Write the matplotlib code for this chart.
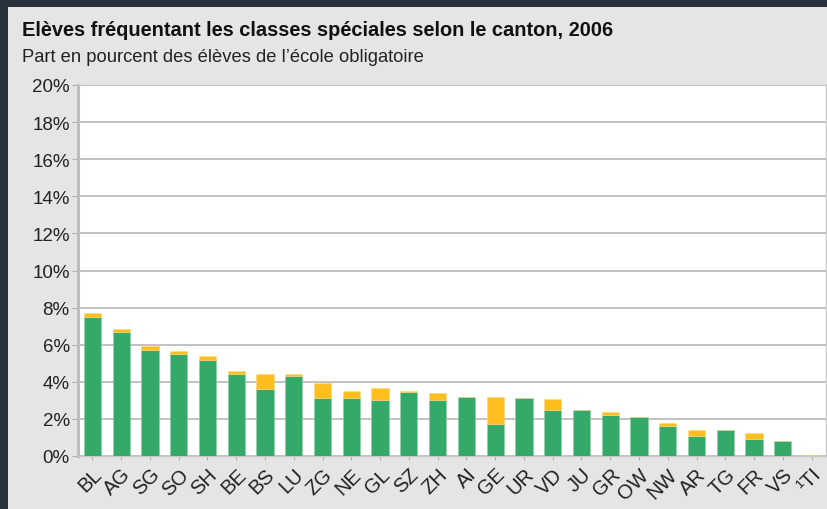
import matplotlib
matplotlib.use("Agg")
from matplotlib import pyplot as plt
from matplotlib.patches import Rectangle
import numpy as np

# données
cantons = ['BL', 'AG', 'SG', 'SO', 'SH', 'BE', 'BS', 'LU', 'ZG', 'NE', 'GL', 'SZ', 'ZH',
           'AI', 'GE', 'UR', 'VD', 'JU', 'GR', 'OW', 'NW', 'AR', 'TG', 'FR', 'VS', '¹TI']
vert = [7.5, 6.7, 5.7, 5.5, 5.2, 4.4, 3.6, 4.3, 3.1, 3.1, 3.0, 3.45, 3.0,
        3.2, 1.7, 3.1, 2.5, 2.5, 2.2, 2.1, 1.6, 1.1, 1.4, 0.9, 0.8, 0.0]
orange = [0.2, 0.15, 0.25, 0.15, 0.2, 0.2, 0.8, 0.1, 0.85, 0.4, 0.65, 0.05, 0.4,
          0.0, 1.5, 0.0, 0.55, 0.0, 0.15, 0.0, 0.2, 0.3, 0.0, 0.35, 0.0, 0.05]
yticks = [0, 2, 4, 6, 8, 10, 12, 14, 16, 18, 20]

plt.rcParams['font.family'] = ['Liberation Sans', 'DejaVu Sans']

W, H = 828, 510
fig = plt.figure(figsize=(W / 100, H / 100), dpi=100)
fig.patch.set_facecolor('#28323d')
# panneau gris clair
fig.add_artist(Rectangle((8 / W, 0), 1, 1 - 8 / H, transform=fig.transFigure,
                         facecolor='#e5e5e5', edgecolor='none', zorder=-10))

ax = fig.add_axes([78 / W, (H - 457) / H, (826 - 78) / W, (457 - 86) / H])
ax.set_zorder(1)
ax.set_facecolor('white')

x = np.arange(len(cantons))
ax.bar(x, vert, width=0.6, color='#34a96a', edgecolor='#8fd0aa', linewidth=0.4, zorder=3)
ax.bar(x, orange, bottom=vert, width=0.6, color='#fdbe1e', edgecolor='#ffd97a',
       linewidth=0.4, zorder=3)

ax.set_xlim(-0.5, len(cantons) - 0.5)
ax.set_ylim(0, 20)
ax.set_yticks(yticks)
ax.set_yticklabels([f'{v}%' for v in yticks], fontsize=13.5, color='#222222')
ax.yaxis.grid(True, color='#b8b8b8', linewidth=1.2, zorder=1)
ax.set_axisbelow(True)

ax.set_xticks(x)
ax.set_xticklabels(cantons, rotation=45, ha='right', rotation_mode='anchor',
                   fontsize=14.5, color='#222222')
ax.tick_params(axis='x', length=3, color='#b0b0b0', pad=3)
ax.tick_params(axis='y', length=4, color='#b0b0b0', pad=2)

for side in ['top', 'right', 'bottom']:
    ax.spines[side].set_color('#c8c8c8')
    ax.spines[side].set_linewidth(1.0)
ax.spines['left'].set_color('#bdbdbd')
ax.spines['left'].set_linewidth(2.2)

fig.text(22 / W, 1 - 30 / H, 'Elèves fréquentant les classes spéciales selon le canton, 2006',
         fontsize=14.4, fontweight='bold', color='#111111', va='center', ha='left')
fig.text(22 / W, 1 - 57 / H, "Part en pourcent des élèves de l’école obligatoire",
         fontsize=13.2, color='#222222', va='center', ha='left')

fig.savefig('out.png', dpi=100, facecolor=fig.get_facecolor())
